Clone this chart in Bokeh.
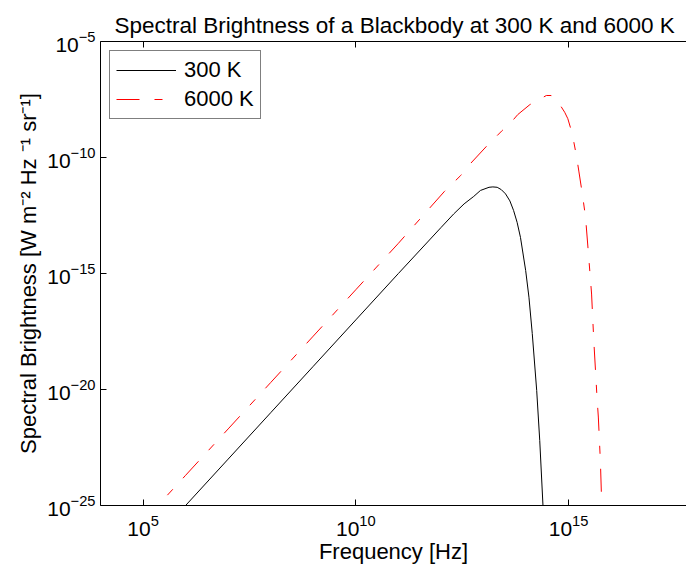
from bokeh.plotting import figure
from bokeh.models import LinearAxis, FixedTicker, Legend, LegendItem
from bokeh.embed import file_html
from bokeh.resources import INLINE

# ---- data (frequency [Hz], spectral brightness) ----
freq_300 = [1.0e4, 1.0e5, 1.0e6, 1.0e7, 1.0e8, 1.0e9, 1.0e10, 1.0e11, 1.0e12,
            2.0e12, 3.5e12, 5.9e12, 8.5e12, 1.35e13, 1.66e13, 2.1e13, 2.63e13,
            3.3e13, 4.17e13, 5.1e13, 6.17e13, 7.4e13, 9.8e13, 1.17e14, 1.4e14,
            1.78e14, 2.1e14, 2.5e14, 2.7e14]
bright_300 = [1.0e-29, 1.0e-27, 1.0e-25, 1.0e-23, 1.0e-21, 1.0e-19, 1.0e-17, 1.0e-15, 9.5e-14,
              3.7e-13, 1.0e-12, 2.1e-12, 3.8e-12, 5.2e-12, 5.4e-12, 5.2e-12, 4.1e-12,
              2.7e-12, 1.35e-12, 5.2e-13, 1.6e-13, 3.6e-14, 1.35e-15, 9.5e-17, 2.6e-18,
              9.1e-21, 6.3e-23, 1.0e-25, 3.2e-27]

freq_6000 = [1.0e4, 1.0e5, 1.0e6, 1.0e7, 1.0e8, 1.0e9, 1.0e10, 1.0e11, 1.2e12,
             2.9e12, 5.0e12, 1.17e13, 2.75e13, 5.0e13, 6.4e13, 1.23e14, 2.0e14,
             3.0e14, 3.9e14, 5.2e14, 8.1e14, 9.6e14, 1.22e15, 1.54e15, 1.74e15,
             2.13e15, 2.5e15, 2.95e15, 3.47e15, 3.9e15, 4.7e15, 5.0e15, 5.6e15,
             6.0e15, 6.5e15]
bright_6000 = [2.0e-28, 2.0e-26, 2.0e-24, 2.0e-22, 2.0e-20, 2.0e-18, 2.0e-16, 2.0e-14, 3.4e-12,
               1.66e-11, 5.6e-11, 3.0e-10, 1.45e-9, 4.2e-9, 7.1e-9, 1.9e-8, 3.1e-8,
               4.7e-8, 4.7e-8, 3.2e-8, 8.9e-9, 4.7e-9, 1.05e-9, 1.1e-10, 2.6e-11,
               2.3e-12, 2.7e-13, 6.0e-15, 1.3e-16, 1.4e-18, 3.4e-21, 6.5e-22, 7.4e-24,
               1.2e-25, 5.0e-27]

x_ticks = [1e5, 1e10, 1e15]
y_ticks = [1e-25, 1e-20, 1e-15, 1e-10, 1e-5]
series_labels = ["300 K", "6000 K"]

FONT = "Liberation Sans"

p = figure(width=686, height=573, x_axis_type="log", y_axis_type="log",
           x_range=(1e4, 5.9e17), y_range=(1e-25, 1e-5),
           output_backend="svg", toolbar_location=None,
           min_border_left=100, min_border_right=0, min_border_top=41,
           min_border_bottom=68)
p.background_fill_color = "white"
p.border_fill_color = "white"
p.outline_line_color = None
p.xgrid.grid_line_color = None
p.ygrid.grid_line_color = None

p.title.text = "Spectral Brightness of a Blackbody at 300 K and 6000 K"
p.title.text_font = FONT
p.title.text_font_size = "22.5px"
p.title.text_font_style = "normal"
p.title.text_color = "black"
p.title.align = "left"
p.title.vertical_align = "top"
p.title.offset = 14
p.title.standoff = 4

r1 = p.line(freq_300, bright_300, line_color="black", line_width=1)
r2 = p.line(freq_6000, bright_6000, line_color="#ff0000", line_width=1,
            line_dash="23 15 8 15")

def style_axis(ax):
    ax.major_tick_in = 6
    ax.major_tick_out = 0
    ax.minor_tick_in = 0
    ax.minor_tick_out = 0
    ax.axis_line_color = "black"
    ax.major_tick_line_color = "black"
    ax.major_label_text_font = FONT
    ax.major_label_text_font_size = "21px"
    ax.major_label_text_color = "black"
    ax.axis_label_text_font = FONT
    ax.axis_label_text_font_size = "22px"
    ax.axis_label_text_font_style = "normal"
    ax.axis_label_text_color = "black"

xa = p.xaxis[0]
xa.ticker = FixedTicker(ticks=x_ticks, minor_ticks=[])
style_axis(xa)
xa.axis_label = "Frequency [Hz]"
xa.major_label_standoff = 9
xa.axis_label_standoff = 0

ya = p.yaxis[0]
ya.ticker = FixedTicker(ticks=y_ticks, minor_ticks=[])
style_axis(ya)
ya.axis_label = "Spectral Brightness [W m\u207b\u00b2 Hz \u207b\u00b9 sr\u207b\u00b9]"
ya.major_label_standoff = 5
ya.axis_label_standoff = 3

top = LinearAxis(ticker=FixedTicker(ticks=x_ticks, minor_ticks=[]))
style_axis(top)
top.major_label_text_font_size = "1px"
top.major_label_text_alpha = 0
top.major_label_standoff = 0
p.add_layout(top, "above")

legend = Legend(items=[LegendItem(label=series_labels[0], renderers=[r1]),
                       LegendItem(label=series_labels[1], renderers=[r2])],
                location="top_left", margin=9, padding=6, spacing=3,
                glyph_width=60, glyph_height=22, label_height=22, label_standoff=8,
                label_text_font=FONT, label_text_font_size="22px",
                label_text_color="black",
                border_line_color="black", border_line_width=1,
                background_fill_color="white", background_fill_alpha=1.0)
p.add_layout(legend)

open("out.html", "w").write(file_html(p, INLINE))
